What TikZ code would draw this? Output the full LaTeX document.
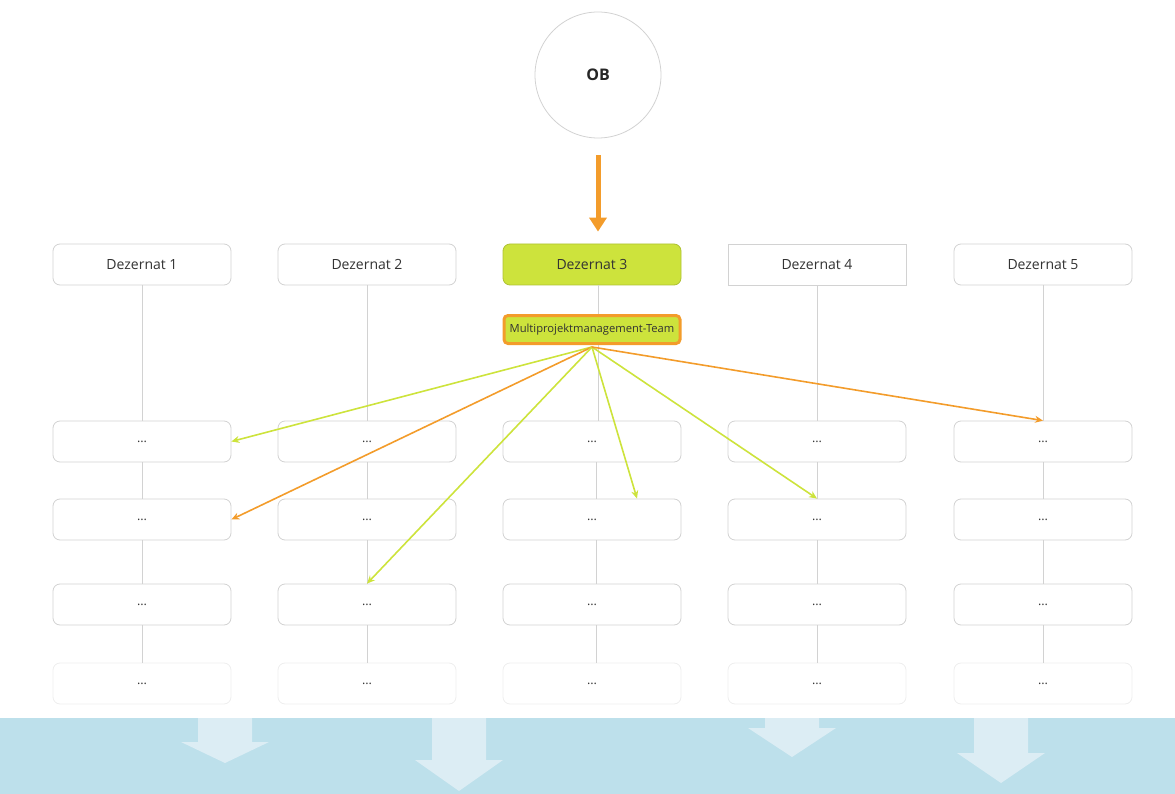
\documentclass[tikz,border=0pt]{standalone}
\usepackage{fontspec}
\setmainfont{Open Sans}
\usetikzlibrary{arrows.meta,positioning}
\definecolor{lime}{HTML}{CDE33C}
\definecolor{amber}{HTML}{F39C2B}
\definecolor{boxline}{HTML}{D2D2D2}
\definecolor{faint}{HTML}{EEEEEE}
\definecolor{band}{HTML}{BDE0EB}
\definecolor{bandarrow}{HTML}{DCEDF4}
\definecolor{ink}{HTML}{333333}
\newcommand\downarrowshape[3]{% centre x, head top y, tip y
  \fill[bandarrow] (#1-27,718) -- (#1+27,718) -- (#1+27,#2) -- (#1+44,#2)
    -- (#1,#3) -- (#1-44,#2) -- (#1-27,#2) -- cycle;}
\tikzset{
  unit/.style={draw=boxline, line width=0.8pt, fill=white, rounded corners=7pt,
    minimum width=178pt, minimum height=41pt, inner sep=0pt, text=ink,
    font=\fontsize{14}{16}\selectfont},
  dots/.style={unit, font=\fontsize{12.5}{14}\selectfont},
  fadedots/.style={dots, draw=faint},
  link/.style={draw=boxline, line width=0.8pt},
  greenarrow/.style={draw=lime, line width=1.6pt, -{Stealth[length=8pt,width=7pt]}},
  orangearrow/.style={draw=amber, line width=1.6pt, -{Stealth[length=8pt,width=7pt]}},
}
\begin{document}
\begin{tikzpicture}[x=1pt,y=-1pt]
\useasboundingbox (0,0) rectangle (1175,794);
% bottom band with downward arrows
\fill[band] (0,718) rectangle (1175,794);
\downarrowshape{225}{742}{763}
\downarrowshape{459}{760}{791}
\downarrowshape{792}{728}{757}
\downarrowshape{1001}{753}{783}

% top circle
\node[circle, draw=boxline, line width=0.8pt, minimum size=126pt, inner sep=0pt,
  font=\fontsize{16}{18}\selectfont\bfseries, text=black!85] (ob) at (598,75) {OB};

% Dezernat headers
\node[unit] (d1) at (142,264.5) {Dezernat 1};
\node[unit] (d2) at (367,264.5) {Dezernat 2};
\node[unit, fill=lime, draw=lime!85!black] (d3) at (592,264.5) {Dezernat 3};
\node[unit, rounded corners=0pt] (d4) at (817,264.5) {Dezernat 4};
\node[unit] (d5) at (1043,264.5) {Dezernat 5};

% team box
\node[draw=amber, line width=3pt, fill=lime, rounded corners=4pt,
  minimum width=176pt, minimum height=28pt, inner sep=0pt, text=ink,
  font=\fontsize{11.2}{13}\selectfont] (team) at (592,329.5) {Multiprojektmanagement-Team};

% unit rows
\foreach \c/\x in {1/142,2/367,3/592,4/817,5/1043}{
  \node[dots] (r1c\c) at (\x,441.5) {...};
  \node[dots] (r2c\c) at (\x,519.5) {...};
  \node[dots] (r3c\c) at (\x,604.5) {...};
  \node[fadedots] (r4c\c) at (\x,683.5) {...};
}

% vertical links
\foreach \c in {1,2,4,5}{
  \draw[link] (d\c.south) -- (r1c\c.north);
}
\draw[link] ([xshift=6pt]d3.south) -- ([xshift=6pt]team.north);
\draw[link] ([xshift=6pt]team.south) -- ([xshift=6pt]r1c3.north);
\foreach \c/\s in {1/0,2/0,3/4,4/0,5/0}{
  \draw[link] ([xshift=\s pt]r1c\c.south) -- ([xshift=\s pt]r2c\c.north);
  \draw[link] ([xshift=\s pt]r2c\c.south) -- ([xshift=\s pt]r3c\c.north);
  \draw[link] ([xshift=\s pt]r3c\c.south) -- ([xshift=\s pt]r4c\c.north);
}

% OB to Dezernat 3
\draw[amber, line width=5pt, -{Triangle[length=14pt,width=17pt]},
  shorten <=17pt, shorten >=12pt] (ob.south) -- (ob.south |- d3.north);

% assignments from the team
\coordinate (hub) at (592,347);
\draw[greenarrow] (hub) -- (r1c1.east);
\draw[orangearrow] (hub) -- (r2c1.east);
\draw[greenarrow] (hub) -- (r3c2.north);
\draw[greenarrow] (hub) -- ([xshift=45pt]r2c3.north);
\draw[greenarrow] (hub) -- (r2c4.north);
\draw[orangearrow] (hub) -- (r1c5.north);
\end{tikzpicture}
\end{document}
